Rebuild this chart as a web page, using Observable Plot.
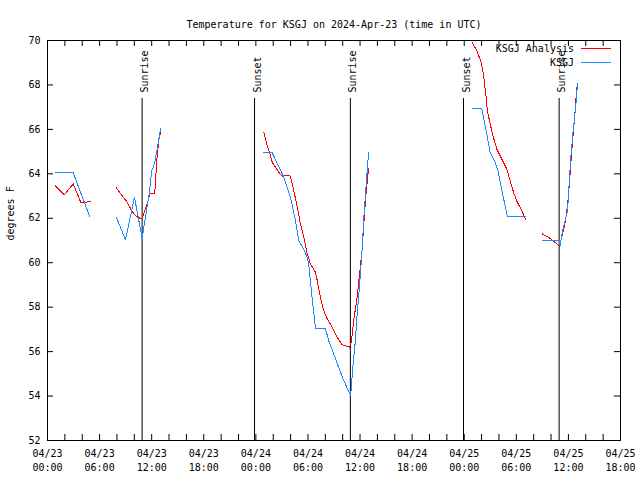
<!DOCTYPE html>
<html><head><meta charset="utf-8">
<script src="https://cdn.jsdelivr.net/npm/d3@7"></script>
<script src="https://cdn.jsdelivr.net/npm/@observablehq/plot@0.6"></script>
<style>
body{margin:0;background:#fff;}
#chart{position:relative;width:640px;height:480px;}
#chart svg{font-family:"DejaVu Sans Mono",monospace;}
#legend{position:absolute;left:0;top:0;pointer-events:none;}
</style></head><body><div id="chart"></div>
<script>
const titleText = "Temperature for KSGJ on 2024-Apr-23 (time in UTC)";
const yLabel = "degrees F";
const xStart = "2024-04-23 00:00";
const xEnd = "2024-04-25 18:00";
const yTicks = [52, 54, 56, 58, 60, 62, 64, 66, 68, 70];

const seriesNames = ["KSGJ Analysis", "KSGJ"];
const seriesColors = ["#ff0000", "#1e88ff"];

const sunTimes = ["2024-04-23 10:54", "2024-04-23 23:51", "2024-04-24 10:53", "2024-04-24 23:55", "2024-04-25 10:56"];
const sunLabels = ["Sunrise", "Sunset", "Sunrise", "Sunset", "Sunrise"];

const analysisTimes = [
  "2024-04-23 00:52","2024-04-23 01:56","2024-04-23 02:58","2024-04-23 03:51","2024-04-23 04:19","2024-04-23 04:58",
  "2024-04-23 06:00",
  "2024-04-23 07:55","2024-04-23 08:36","2024-04-23 09:10","2024-04-23 09:41","2024-04-23 10:08","2024-04-23 10:31","2024-04-23 10:54","2024-04-23 11:12","2024-04-23 11:35","2024-04-23 11:47","2024-04-23 12:21","2024-04-23 12:37","2024-04-23 12:49","2024-04-23 13:01",
  "2024-04-23 18:00",
  "2024-04-24 00:55","2024-04-24 01:19","2024-04-24 01:41","2024-04-24 01:53","2024-04-24 02:16","2024-04-24 02:38","2024-04-24 03:02","2024-04-24 03:20","2024-04-24 03:55","2024-04-24 04:06","2024-04-24 04:22","2024-04-24 04:46","2024-04-24 05:08","2024-04-24 05:31","2024-04-24 05:55","2024-04-24 06:17","2024-04-24 06:52","2024-04-24 07:04","2024-04-24 07:26","2024-04-24 07:49","2024-04-24 08:13","2024-04-24 08:47","2024-04-24 09:22","2024-04-24 09:56","2024-04-24 10:19","2024-04-24 10:48","2024-04-24 11:00","2024-04-24 11:16","2024-04-24 11:40","2024-04-24 12:14","2024-04-24 12:29","2024-04-24 12:43","2024-04-24 12:59",
  "2024-04-24 18:00",
  "2024-04-25 00:56","2024-04-25 01:27","2024-04-25 01:57","2024-04-25 02:12","2024-04-25 02:29","2024-04-25 02:40","2024-04-25 02:59","2024-04-25 03:21","2024-04-25 03:45","2024-04-25 04:19","2024-04-25 04:54","2024-04-25 05:17","2024-04-25 05:44","2024-04-25 06:07","2024-04-25 06:37","2024-04-25 07:05",
  "2024-04-25 08:00",
  "2024-04-25 08:59","2024-04-25 09:52","2024-04-25 10:27","2024-04-25 10:56","2024-04-25 11:08","2024-04-25 11:31","2024-04-25 11:47","2024-04-25 11:59","2024-04-25 12:10","2024-04-25 12:22","2024-04-25 12:33","2024-04-25 12:45","2024-04-25 12:56","2024-04-25 13:03"
];
const analysisTemps = [
  63.47,63.05,63.55,62.7,62.72,62.75,
  null,
  63.37,63.02,62.73,62.35,62.12,62.02,61.98,62.35,62.8,63.13,63.13,64.75,65.5,65.87,
  null,
  65.87,65.27,64.82,64.52,64.3,64.07,63.88,63.92,63.92,63.7,63.25,62.5,61.75,61.15,60.4,59.95,59.57,59.2,58.45,57.85,57.47,57.1,56.65,56.32,56.26,56.2,56.42,57.4,58.45,60.55,62.05,63.25,64.22,
  null,
  69.9,69.55,69.02,68.5,67.6,66.85,66.25,65.65,65.12,64.67,64.22,63.7,63.1,62.72,62.35,61.93,
  null,
  61.3,61.1,60.92,60.74,61.0,61.6,62.2,62.95,63.85,64.9,65.8,66.7,67.75,68.05
];

const obsTimes = [
  "2024-04-23 00:52","2024-04-23 02:58","2024-04-23 04:53",
  "2024-04-23 06:00",
  "2024-04-23 07:55","2024-04-23 08:59","2024-04-23 10:01","2024-04-23 10:54","2024-04-23 11:45","2024-04-23 11:59","2024-04-23 12:19","2024-04-23 12:42","2024-04-23 13:01",
  "2024-04-23 18:00",
  "2024-04-24 00:55","2024-04-24 01:53","2024-04-24 03:13","2024-04-24 03:59","2024-04-24 04:34","2024-04-24 04:56","2024-04-24 05:31","2024-04-24 05:55","2024-04-24 06:05","2024-04-24 06:29","2024-04-24 06:52","2024-04-24 08:01","2024-04-24 08:23","2024-04-24 08:58","2024-04-24 09:32","2024-04-24 10:07","2024-04-24 10:55","2024-04-24 11:10","2024-04-24 11:28","2024-04-24 11:39","2024-04-24 11:57","2024-04-24 12:14","2024-04-24 12:25","2024-04-24 12:36","2024-04-24 12:48","2024-04-24 12:59",
  "2024-04-24 18:00",
  "2024-04-25 00:56","2024-04-25 02:01","2024-04-25 02:17","2024-04-25 02:36","2024-04-25 02:59","2024-04-25 03:33","2024-04-25 03:56","2024-04-25 04:13","2024-04-25 04:35","2024-04-25 04:58","2024-04-25 07:05",
  "2024-04-25 08:00",
  "2024-04-25 08:59","2024-04-25 10:56","2024-04-25 11:03","2024-04-25 11:13","2024-04-25 11:31","2024-04-25 11:54","2024-04-25 12:05","2024-04-25 12:17","2024-04-25 12:33","2024-04-25 12:50","2024-04-25 13:03"
];
const obsTemps = [
  64.05,64.05,62.05,
  null,
  62.05,61.03,62.95,61.1,63.2,64.1,64.45,65.27,66.03,
  null,
  64.95,64.95,63.85,62.95,61.9,61.0,60.6,60.25,59.95,58.4,57.05,57.03,56.5,55.9,55.3,54.7,54.02,55.3,56.5,57.6,59.0,60.55,61.9,62.95,64.0,64.95,
  null,
  66.93,66.93,66.4,65.8,64.97,64.52,64.07,63.47,62.8,62.08,62.08,
  null,
  61.0,61.0,60.77,61.22,61.75,62.35,63.55,64.75,65.95,67.0,68.05
];

const parse = d3.utcParse("%Y-%m-%d %H:%M");
const analysis = analysisTimes.map((t, i) => ({time: parse(t), temp: analysisTemps[i]}));
const obs = obsTimes.map((t, i) => ({time: parse(t), temp: obsTemps[i]}));
const sun = sunTimes.map((t, i) => ({time: parse(t), label: sunLabels[i]}));
const x0 = parse(xStart), x1 = parse(xEnd);
const majorTicks = d3.utcHour.every(6).range(x0, d3.utcHour.offset(x1, 1));
const minorTicks = d3.utcHour.every(2).range(x0, d3.utcHour.offset(x1, 1));

const W = 640, H = 480, mL = 47, mR = 20, mT = 40, mB = 40;
const innerW = W - mL - mR, innerH = H - mT - mB;
const tickLen = 6;

const plot = Plot.plot({
  width: W, height: H,
  marginLeft: mL, marginRight: mR, marginTop: mT, marginBottom: mB,
  style: {fontFamily: "DejaVu Sans Mono, monospace", fontSize: "10px", background: "#fff", color: "#000"},
  x: {type: "utc", domain: [x0, x1]},
  y: {domain: [52, 70]},
  marks: [
    Plot.ruleX(minorTicks, {x: d => d, insetTop: innerH - tickLen, stroke: "#000"}),
    Plot.ruleX(minorTicks, {x: d => d, insetBottom: innerH - tickLen, stroke: "#000"}),
    Plot.ruleY(yTicks, {y: d => d, insetRight: innerW - tickLen, stroke: "#000"}),
    Plot.ruleY(yTicks, {y: d => d, insetLeft: innerW - tickLen, stroke: "#000"}),
    Plot.axisX(majorTicks, {tickSize: 0, tickPadding: 7, lineHeight: 1.4, tickFormat: d3.utcFormat("%m/%d\n%H:%M"), label: null}),
    Plot.axisY(yTicks, {tickSize: 0, tickPadding: 7, label: null}),
    Plot.ruleX(sun, {x: "time", insetTop: 58, stroke: "#000"}),
    Plot.text(sun, {x: "time", text: "label", rotate: -90, frameAnchor: "top", textAnchor: "start", dy: 52, dx: -1}),
    Plot.line(analysis, {x: "time", y: "temp", stroke: seriesColors[0], strokeWidth: 1, shapeRendering: "crispEdges"}),
    Plot.line(obs, {x: "time", y: "temp", stroke: seriesColors[1], strokeWidth: 1, shapeRendering: "crispEdges"}),
    Plot.frame({stroke: "#000"}),
    Plot.text([titleText], {frameAnchor: "top", dy: -20}),
    Plot.text([yLabel], {frameAnchor: "left", rotate: -90, dx: -37})
  ]
});
const chart = document.getElementById("chart");
chart.appendChild(plot);

// legend (top right, inside frame)
const leg = d3.select(chart).append("svg").attr("id", "legend")
  .attr("width", W).attr("height", H)
  .style("font-family", "DejaVu Sans Mono, monospace").style("font-size", "10px");
seriesNames.forEach((name, i) => {
  const yy = 48 + i * 14;
  leg.append("text").attr("x", 574).attr("y", yy).attr("dy", "0.35em")
    .attr("text-anchor", "end").attr("fill", "#000").text(name);
  leg.append("line").attr("x1", 581).attr("x2", 611).attr("y1", yy).attr("y2", yy)
    .attr("stroke", seriesColors[i]).attr("stroke-width", 1)
    .attr("shape-rendering", "crispEdges");
});
</script>
</body></html>
